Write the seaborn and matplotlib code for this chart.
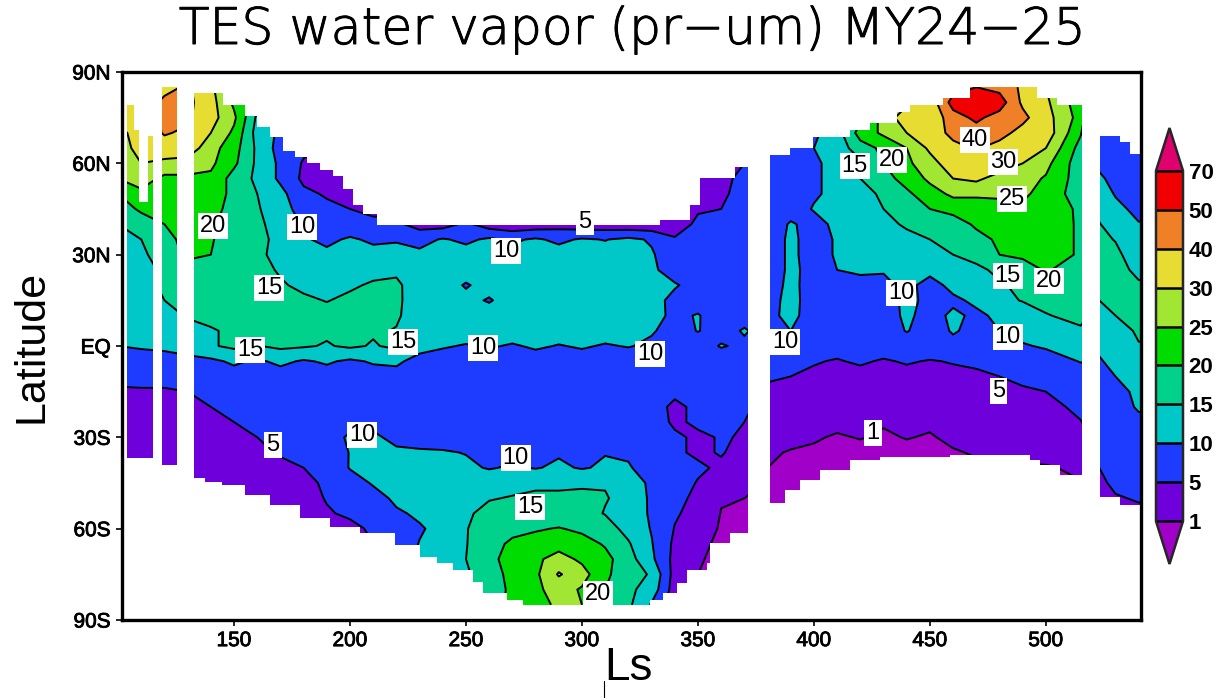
import matplotlib
matplotlib.use('Agg')
import matplotlib.pyplot as plt
import matplotlib.patheffects as pe
import numpy as np
import pandas as pd
import seaborn as sns
from matplotlib.lines import Line2D

# Water vapour, one list per latitude, one value per Ls
ls = list(range(100, 510, 10)) + [515, 523, 530, 540, 550]
q = 0.3

lat_85 = [30,30,36,42,31,24,18,12,8,6, 4,3,3,3,3,3,3,3,3,3, 3,3,3,3,3,3,4,4,5,6, 7,10,14,20,26,34,46,50,47,38, 30,21,7,7,6,6]
lat_80 = [32,32,43,43,32,24,17,12,8,6, 4,3,3,3,3,3,3,3,3,3, 3,3,3,3,3,3,4,4,5,6, 8,12,18,24,29,34,54,57,55,38, 31,22,7,7,6,6]
lat_75 = [32,30,43,42,32,26,14,10,7,5, 4,3,3,3,3,3,3,3,3,3, 3,3,3,3,3,4,4,4,5,6, 8,13,19,27,33,32,46,52,46,43, 32,23,7,6.5,6,6]
lat_70 = [28,33,41,38,30,24,13,9,6,5, 4,3,3,3,3,3,3,3,3,3, 3,3,3,3,3,4,4,4,5,6, 9,13,22,26,30,34,43,46,44,36, 33,20.5,7,6.5,6,6]
lat_65 = [26,33,35,33,27,22,14,8,6,5, 4,3,3,3,3,3,3,3,3,3, 3,3,3,3,3,4,4,5,6,8, 10,12,18,21,25,31,37,41,36,33, 30,18,7.5,6.5,6.5,6.5]
lat_60 = [26,30,28,28,26,21,14,9,4.5,4, 4,3,3,3,3,3,3,3,3,3, 3,3,3,3,3,4,4,5,6,8, 9.5,11,14,20,24,28,33,35,33,30, 26.5,17,9,7,6.5,6.5]
lat_55 = [25,27,24,24,24,18,14,9,4,4, 4,3,3,3,3,3,3,3,3,3, 3,3,3,3,3,4,4,6,7,8, 9.5,11,15,18,22,26,30,31,28,27, 24.5,17.5,10.8,8.5,6.5,6.5]
lat_50 = [20,24,22,22,24,18,15,11.5,6,4.5, 4.5,3,3,3,3,3,3,3,3,3, 3,3,3,3,4,4,4.5,6,7,8, 9.5,11,13,16,19,23,26,26,26.5,26, 23,17.5,12,9.7,7,7]
lat_45 = [17,21,21,21,23,17,15.5,12,8,6, 5,4,4,4,4,4,4,4,4,4, 4,4,4,4,3,4.5,5,7,7,8, 10.3,10.5,12,15,16.5,20,22,22,22,24, 24,18.8,14,11,9,9]
lat_40 = [15,17,20,21,21,17,16,13,9.5,7.5, 7,6,6,3,3,6,2.5,1.5,2,3, 2,2,1.5,1.5,2.5,6,6.5,7,7,10.5, 8.5,11,12,14,15.5,17,17,21,22,22, 24,19,15.2,13,10.2,10.2]
lat_35 = [13,15,19,21,20.5,17,16,14,10.5,9, 10.6,9.2,9.6,8.5,10.4,9,10.8,9.2,10.6,9, 10.5,9.8,11,9.5,5.5,6,6.5,7,7,11, 8,10.5,12,13,14,15,15.5,18,21,21.5, 24,19,16,14.8,11,11]
lat_30 = [12,14,17.5,21,20,17,16,13.5,11.5,11, 11.5,11.5,11.5,11,11.5,12,12,12,12,12, 12,12,12,10.5,7,6.5,6.5,7,7,11, 8,10.5,11.5,12.5,13,14,15,16.5,20,21, 24,19,16.5,16,12.5,12.5]
lat_25 = [11,13,16,18,18,17,16.5,14.5,13,12.5, 13,13.5,14.5,13,12.5,12.5,12,12.5,12.5,12.5, 12.5,12.5,12.5,11,7.5,7,7,7,7,11, 8.5,10,10.5,10.5,11,11.5,13,14,16,17.5, 20.5,17.5,16.5,16.5,14,14]
lat_20 = [10.5,13,16,17.5,17.5,17,16.5,15.5,14,15, 14.3,15.6,15.5,13.5,12.5,9.5,12,12.5,13,13, 13,13,13,11.5,10.5,8,7.5,7,7,11.5, 7.5,9,9,8.5,11.5,8,11.5,13,14.5,16, 18,17,16,16.5,15.5,15.5]
lat_15 = [10,12.5,15,17,17,17,17,15.3,15.8,14.8, 16,15,15.7,13,12,11.5,9.5,12.5,13,13, 13,13,13,12,8.5,8,7.5,7,7.5,12, 7,8,8,8,11,9,9,11,14,15.2, 16,16.5,15,16,16,16]
lat_10 = [10,11.5,13,15.5,16.5,17,17,16.5,16.5,16.5, 17,16.5,15.5,13,12.5,12.5,12.5,13,13,13, 13,13,13,11.5,9,10.3,7.5,8,8,12, 6.5,7,7,7.5,11,8,11,9,11,13, 14.8,16,13.5,15,16,16]
lat_5 = [10,11,12.5,13,14.5,16,15.5,16,16,15.8, 16,15.5,14.8,13,13,12.5,12.5,13,12.5,12.5, 12.5,12.5,12.5,10.5,8,10.2,8,10.5,8,10, 6.5,6.5,6.5,7,10.3,7.5,10.5,8.5,10,11.5, 13,14.5,12,13.5,15.5,15.5]
lat_0 = [10,10.5,11,13,14.5,16,14.8,16,15.5,14.6, 15.8,14.6,16,12,10.5,9.6,10.6,9.4,10.8,9.7, 10.6,9.5,10.3,9,7,7.5,10.4,9,7,6.5, 6,6,6,6.5,7,7,8.5,7.5,8,9.6, 10.5,12,11,12.5,14.8,14.8]
lat_m5 = [7.5,8,8,8,9,10.8,9.3,11,9.5,10.6, 9.2,10.5,11,8,7.5,7,7,7.5,7.5,7.5, 7.5,7.5,7,7,6.5,7,7,7,6,6, 5.2,4.8,5.4,4.7,5.3,4.8,5.2,5.5,6.5,7, 8,10.2,9.5,11.5,13.5,13.5]
lat_m10 = [6,6.5,6.5,6.5,7,8,8,8,8,8, 8,8,8,7,6.5,7,7,7,7,7, 7,7,7,7,7,7,7,7,5.5,5, 4.5,4,4,4,4,4,4.2,4.5,5,5.5, 6.5,8,8.5,10,12.5,12.5]
lat_m15 = [4.5,4.5,4.5,5,6,6.5,7,7,7,7.5, 7.5,7,6.5,6.5,6.5,6.5,6.5,6.5,6.5,6.5, 6.5,6.5,6.5,6,5.5,6,6,6,4.2,3.5, 3.2,3,3,2.8,3,3,3.2,3.5,4.5,4.7, 5,6.5,7.5,8.5,11,11]
lat_m20 = [4,4,4,4.5,5,6,6.5,7,9.5,9.5, 8,7,6.5,6.5,6.5,6.5,6.5,6.5,6.5,6.5, 6.5,6.5,6.5,6,4.5,5.5,6,6,3,2.5, 2.2,2,2,1.8,1.8,2,2.2,2.5,3.2,3.5, 4.2,5.6,7,8,10.5,10.5]
lat_m25 = [3.5,3.5,3.5,4,4.2,5,6,7,7.5,8, 9,8.5,7.5,6.5,7,7,7,7,7,7, 7,7,7,6.5,4.5,5.5,5.5,5,2.5,2, 1.8,1.5,1.3,1.2,1.3,1.4,1.6,2,2.5,3, 3.5,4.9,6.5,7.5,9,9]
lat_m30 = [3,3,3,3.5,3.8,4.2,5,5.8,7,8.5, 10.5,11,8.5,7.5,7.5,7,7,7,7,7, 7,7,6.5,6,5.5,4.5,5.2,4.8,1.8,1.4, 1.2,0.8,1.1,0.7,1.1,0.8,1.5,1.8,2,2.5, 3,3.5,6,7,8,8]
lat_m35 = [2.5,2.5,2.5,2.5,3,3.5,4,5.4,5.2,7, 10.2,12,11,10.8,10.5,9.8,9.5,9,9.5,9.5, 9.5,9.8,9.7,8,5.5,4.5,5.2,4,1.2,0.9, 0.7,0.5,0.4,0.4,0.4,0.5,0.8,1.2,1.3,1.6, 1.8,2.5,5.5,6.5,7,7]
lat_m40 = [2,2,2.2,2.5,2.8,3,3.5,4,5,6, 10.3,12.5,13,12,10.3,11,9.6,10.6,9.7,10.8, 9.6,10.7,10.2,9,6.5,5.5,4.5,3.5,1,0.7, 0.5,0.4,0.4,0.4,0.4,0.4,0.4,0.6,0.7,0.8, 0.8,1.4,5,6,6.5,6.5]
lat_m45 = [1.5,1.5,1.8,2,2.2,2.5,3,3.5,4.2,5.5, 7.5,10.5,13.5,13.5,13,13,13.5,14,14.5,14.5, 14.5,14.8,13.5,8.7,6.5,4.8,3.5,2.5,0.8,0.6, 0.4,q,q,q,q,q,q,0.4,0.4,0.5, 0.5,0.9,4.5,5.5,6,6]
lat_m50 = [1,1,1.5,1.8,2,2.2,2.6,3,3.8,5.2, 6.5,8,11,13.5,14,14,14.8,15.2,15.5,15.5, 15.8,15.2,14,9,6,4.2,1.2,1,0.6,0.5, q,q,q,q,q,q,q,q,q,0.4, 0.4,0.7,4,4.8,5.2,5.2]
lat_m55 = [1,1,1.5,1.8,2,2.2,2.5,2.8,3.2,4.7, 5.5,6.5,9.3,10.8,13,14.5,16,16.5,16.5,16.5, 16.5,14.8,13,9.3,5.5,3.5,0.9,0.7,0.5,0.4, q,q,q,q,q,q,q,q,q,q, q,0.5,3,4,4.5,4.5]
lat_m60 = [1,1,1,1.5,1.8,2,2.2,2.5,2.8,3.5, 4.2,5.5,8,9.5,11.5,14.8,17,18.5,19.5,20.3, 19,17,13.5,9.7,4.8,2.5,0.7,0.5,0.4,q, q,q,q,q,q,q,q,q,q,q, q,0.4,2,3,3.5,3.5]
lat_m65 = [1,1,1,1,1.5,1.8,2,2.2,2.5,3, 4,5,7,10.2,12,14.8,18,21,22,23, 22,19.5,15.5,10.3,4,1.5,0.6,0.4,q,q, q,q,q,q,q,q,q,q,q,q, q,q,1.5,2.5,3,3]
lat_m70 = [1,1,1,1,1,1.5,1.8,2,2.2,2.5, 3,4,6,11,12.5,15,18,23,24,27, 24,21.5,17,11,3.5,1.2,0.5,0.4,q,q, q,q,q,q,q,q,q,q,q,q, q,q,1,2,2.5,2.5]
lat_m75 = [1,1,1,1,1,1,1.5,1.8,2,2.2, 2.5,3.5,6,11,13,14.5,17,22,24,30.5, 27,21,17,14.5,3,1,0.4,q,q,q, q,q,q,q,q,q,q,q,q,q, q,q,1,1.5,2,2]
lat_m80 = [1,1,1,1,1,1,1,1.5,1.8,2, 2.2,3,5,10,12.5,15.3,17.5,21,24,27, 24.5,20,16,13,2.5,0.8,0.4,q,q,q, q,q,q,q,q,q,q,q,q,q, q,q,1,1.5,2,2]
lat_m85 = [1,1,1,1,1,1,1,1,1.5,2, 2.5,3,4,9,12,15,18,21,23,26, 25,21,16,9.5,2,0.7,q,q,q,q, q,q,q,q,q,q,q,q,q,q, q,q,1,1.5,2,2]

lats = list(range(85, -90, -5))
rows = [lat_85, lat_80, lat_75, lat_70, lat_65, lat_60, lat_55, lat_50, lat_45, lat_40, lat_35, lat_30,
        lat_25, lat_20, lat_15, lat_10, lat_5, lat_0, lat_m5, lat_m10, lat_m15, lat_m20, lat_m25, lat_m30,
        lat_m35, lat_m40, lat_m45, lat_m50, lat_m55, lat_m60, lat_m65, lat_m70, lat_m75, lat_m80, lat_m85]

levels = [1, 5, 10, 15, 20, 25, 30, 40, 50, 70]
level_colors = ['#A000C8', '#6E00DC', '#1E3CFF', '#00C8C8', '#00D28C', '#00DC00',
                '#A0E632', '#E6DC32', '#F08028', '#F00000', '#E0006E']

# Edge of the data coverage and the missing Ls periods
north_ls = [103.9, 106.9, 109.1, 112.9, 119, 125.4, 132.8, 145.3, 154.7, 159.9, 165.5, 171.1, 176.3, 181.5,
            187.1, 192.7, 197, 201.3, 205.6, 211.6, 333.6, 346.5, 350.8, 366, 381, 389.6, 399.5, 415.5,
            424.1, 435.7, 441.3, 455.5, 467.2, 496, 504.6, 523.2, 531.8, 536.2, 542]
north_lat = [79.2, 70.9, 47.3, 69, 85, 85, 83.1, 79.2, 75.5, 72, 68.7, 64.1, 62, 60, 57.7, 56, 51.7, 46.2,
             43.5, 39.7, 41.4, 46.3, 55.2, 58.8, 62.9, 65.2, 68.5, 70.9, 73.2, 76.8, 79, 81.4, 85, 81.4, 79,
             69, 67, 63.2, 63.2]
south_ls = [103.9, 119, 132.8, 137.5, 144.8, 154.7, 165.5, 178.4, 191.4, 204.3, 219.4, 230.2, 237.5,
            244.4, 253, 257.3, 267.7, 274.6, 329.3, 334.9, 340.9, 345.2, 353.9, 355.2, 363.8, 381, 387.5,
            394, 402.6, 415.5, 428.4, 458.6, 493, 497.4, 506, 523.2, 531.8, 542]
south_lat = [-36.8, -39.1, -43.4, -44.7, -45.7, -49, -52.2, -56.5, -59.5, -61.4, -65.4, -69.3, -71.3,
             -73.6, -77.5, -81.2, -83.5, -85.4, -83.5, -81.2, -77.9, -73.6, -71.3, -64.7, -61.4, -51.6,
             -47.3, -44, -40.7, -37.5, -36.5, -35.8, -37.5, -39.1, -42.4, -49.6, -52.2, -53.9]
gap_start = [101, 115.1, 125.4, 371.6, 515.5]
gap_end = [103.9, 119, 132.8, 381, 523.2]

# Contour labels: text, Ls, latitude
label_text = ['20', '10', '15', '15', '15', '10', '10', '5', '10', '5', '10', '10', '15',
              '20', '10', '15', '20', '40', '30', '25', '15', '20', '10', '10', '5', '1']
label_ls = [141, 179.3, 165.1, 156.9, 222.8, 257.3, 267.2, 301.3, 329.3, 166.8, 205.2, 271.5, 277.6,
            306.9, 387.5, 417.6, 433.6, 469.4, 481.4, 485.3, 483.6, 501.3, 437.5, 483.6, 479.7, 425.4]
label_lat = [39.4, 39.1, 19, -1.3, 1.3, -0.7, 31.2, 40.7, -2.6, -32.5, -29.2, -36.8, -52.9,
             -81.5, 1.3, 59.1, 61.1, 67.7, 60.4, 48.3, 23, 21.3, 17.4, 3, -14.8, -28.6]

xtick_vals = [150, 200, 250, 300, 350, 400, 450, 500]
ytick_vals = [90, 60, 30, 0, -30, -60, -90]
ytick_names = ['90N', '60N', '30N', 'EQ', '30S', '60S', '90S']

sns.set_style('white')
plt.rcParams['font.family'] = ['Liberation Sans', 'DejaVu Sans']
plt.rcParams['text.color'] = 'black'
plt.rcParams['axes.labelcolor'] = 'black'
plt.rcParams['xtick.color'] = 'black'
plt.rcParams['ytick.color'] = 'black'

df = pd.DataFrame(rows, index=lats, columns=ls)
palette = sns.color_palette(level_colors)

fig = plt.figure(figsize=(12.25, 6.98), dpi=100)
ax = fig.add_axes([122 / 1225, 78 / 698, 1019 / 1225, 548 / 698])

filled = ax.contourf(df.columns, df.index, df.values, levels=levels, colors=palette, extend='both')
ax.contour(df.columns, df.index, df.values, levels=levels, colors='black', linewidths=1.4, linestyles='solid')

# Blank out what the instrument did not cover
ax.fill_between(north_ls, north_lat, 90, step='post', color='white', lw=0, zorder=3)
ax.fill_between(south_ls, south_lat, -90, step='post', color='white', lw=0, zorder=3)
for start, end in zip(gap_start, gap_end):
    ax.axvspan(start, end, color='white', lw=0, zorder=3)

for text, x, y in zip(label_text, label_ls, label_lat):
    ax.text(x, y, text, fontsize=17, ha='center', va='center', zorder=4,
            bbox=dict(facecolor='white', edgecolor='none', pad=1.5))

ax.set_xlim(101.7, 541)
ax.set_ylim(-90, 90)
ax.set_xticks(xtick_vals)
ax.set_yticks(ytick_vals)
ax.set_yticklabels(ytick_names)
ax.tick_params(axis='both', direction='out', length=4, width=1.2, bottom=True, left=True, labelsize=15, pad=4)
for t in ax.get_xticklabels() + ax.get_yticklabels():
    t.set_path_effects([pe.withStroke(linewidth=0.6, foreground='black')])
for spine in ax.spines.values():
    spine.set_linewidth(2.4)
    spine.set_color('black')
    spine.set_zorder(5)

ax.set_xlabel('Ls', fontsize=33, labelpad=-3, x=0.497)
ax.set_ylabel('Latitude', fontsize=31, labelpad=15)
title = fig.text(632 / 1225, 1 - 30 / 698, 'TES water vapor (pr\u2212um) MY24\u221225', fontsize=36.3,
                 ha='center', va='center', family='DejaVu Sans', fontweight='light')
title.set_path_effects([pe.withStroke(linewidth=0.7, foreground='black')])
fig.add_artist(Line2D([604 / 1225, 604 / 1225], [0, 17 / 698], color='black', lw=0.8))

cax = fig.add_axes([1156 / 1225, 134 / 698, 27 / 1225, 436 / 698])
cbar = fig.colorbar(filled, cax=cax, extend='both', extendfrac=0.122, drawedges=True)
cbar.set_ticks(levels)
cbar.set_ticklabels([str(v) for v in levels])
cbar.ax.tick_params(length=0, labelsize=16, pad=4)
for t in cbar.ax.get_yticklabels():
    t.set_fontweight('bold')
cbar.outline.set_linewidth(1.8)
cbar.dividers.set_linewidth(1.8)
cbar.dividers.set_color('black')

fig.savefig('out.png', dpi=100)
